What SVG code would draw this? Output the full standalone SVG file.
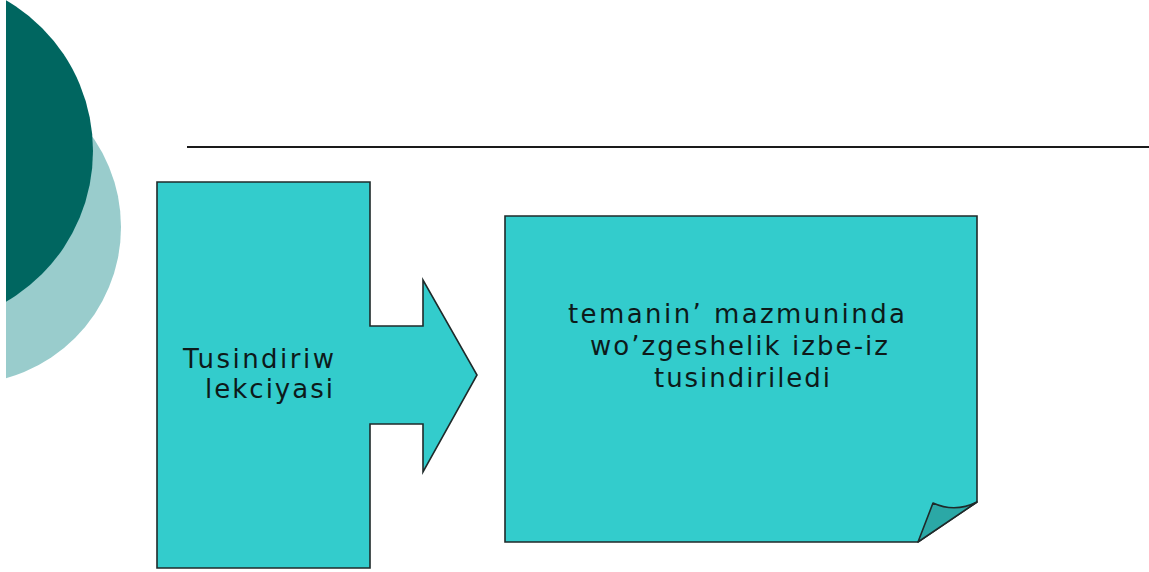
<svg xmlns="http://www.w3.org/2000/svg" width="1149" height="572" viewBox="0 0 1149 572">
<defs>
<style>
.shape{fill:#33CCCC;stroke:#1f2a2a;stroke-width:1.6;stroke-linejoin:miter}
.flap{fill:#2BA8A6;stroke:#1f2a2a;stroke-width:1.6;stroke-linejoin:round}
.lbl{font-family:"DejaVu Sans","Verdana",sans-serif;font-size:26px;fill:#0d1a1a}
</style>
<clipPath id="deco"><rect x="6" y="0" width="200" height="572"/></clipPath>
</defs>
<rect width="1149" height="572" fill="#ffffff"/>
<g id="decoration" clip-path="url(#deco)">
<circle cx="-36" cy="227" r="157" fill="#99CCCC"/>
<circle cx="-81" cy="151" r="174" fill="#006660"/>
</g>
<line x1="187" y1="147" x2="1149" y2="147" stroke="#1a1a1a" stroke-width="2"/>
<g id="node-lecture">
<path class="shape" d="M157,182 L370,182 L370,326 L423,326 L423,280 L477,375 L423,472 L423,424 L370,424 L370,568 L157,568 Z"/>
<text class="lbl" x="183" y="368" textLength="151" lengthAdjust="spacing">Tusindiriw</text>
<text class="lbl" x="205" y="398" textLength="128" lengthAdjust="spacing">lekciyasi</text>
</g>
<g id="node-content">
<path class="shape" d="M505,216 L977,216 L977,502 L918,542 L505,542 Z"/>
<path class="flap" d="M918,542 L933,503 Q955,513 977,502 Z"/>
<text class="lbl" x="568" y="323" textLength="337" lengthAdjust="spacing">temanin’ mazmuninda</text>
<text class="lbl" x="590" y="355" textLength="298" lengthAdjust="spacing">wo’zgeshelik izbe-iz</text>
<text class="lbl" x="654" y="387" textLength="176" lengthAdjust="spacing">tusindiriledi</text>
</g>
<g id="connectors"></g>
</svg>
